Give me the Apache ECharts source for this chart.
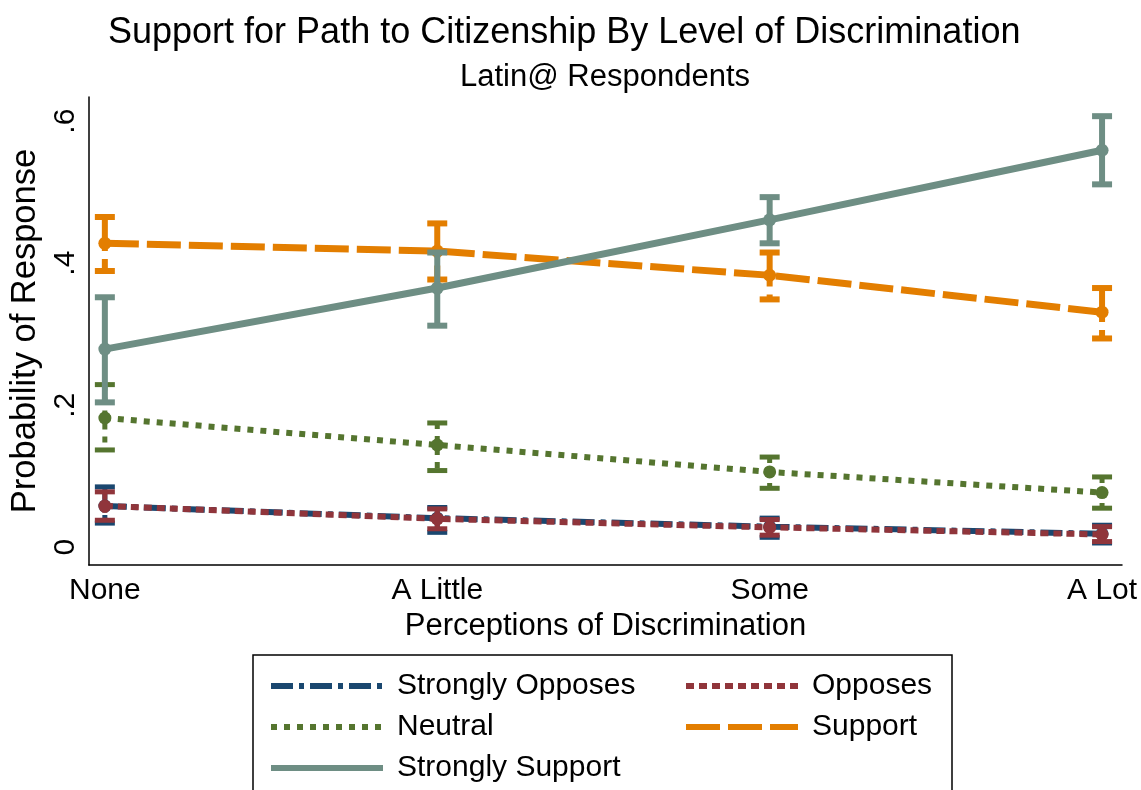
<!DOCTYPE html>
<html>
<head>
<meta charset="utf-8">
<script src="https://cdn.jsdelivr.net/npm/echarts@6/dist/echarts.min.js"></script>
<style>
html,body{margin:0;padding:0;background:#fff;}
#chart{width:1141px;height:790px;}
</style>
</head>
<body>
<div id="chart"></div>
<script>
// ---- data ----
const categories = ['None', 'A Little', 'Some', 'A Lot'];
const yTicks = [0, 0.2, 0.4, 0.6];
const yTickLabels = ['0', '.2', '.4', '.6'];

const seriesNames = ['Strongly Opposes', 'Opposes', 'Neutral', 'Support', 'Strongly Support'];

const stronglyOpposes   = [0.058, 0.041, 0.029, 0.019];
const stronglyOpposesLo = [0.034, 0.021, 0.014, 0.006];
const stronglyOpposesHi = [0.085, 0.056, 0.041, 0.031];

const opposes   = [0.058, 0.040, 0.028, 0.018];
const opposesLo = [0.038, 0.026, 0.017, 0.008];
const opposesHi = [0.078, 0.054, 0.039, 0.029];

const neutral   = [0.182, 0.144, 0.106, 0.077];
const neutralLo = [0.137, 0.108, 0.083, 0.055];
const neutralHi = [0.229, 0.175, 0.127, 0.099];

const support   = [0.428, 0.417, 0.383, 0.331];
const supportLo = [0.389, 0.377, 0.349, 0.294];
const supportHi = [0.465, 0.456, 0.415, 0.365];

const stronglySupport   = [0.279, 0.365, 0.461, 0.559];
const stronglySupportLo = [0.204, 0.312, 0.428, 0.511];
const stronglySupportHi = [0.352, 0.415, 0.493, 0.607];

// ---- styles ----
const styles = {
  'Strongly Opposes': {color: '#1a476f', width: 6, dash: [22, 6, 5, 6], z: 2},
  'Opposes':          {color: '#90353b', width: 6, dash: [8, 5], z: 3},
  'Neutral':          {color: '#55752f', width: 6, dash: [6, 7], z: 4},
  'Support':          {color: '#e37e00', width: 7, dash: [34, 8], z: 5},
  'Strongly Support': {color: '#6e8e84', width: 7, dash: 'solid', z: 6}
};
const seriesData = {
  'Strongly Opposes': [stronglyOpposes, stronglyOpposesLo, stronglyOpposesHi],
  'Opposes': [opposes, opposesLo, opposesHi],
  'Neutral': [neutral, neutralLo, neutralHi],
  'Support': [support, supportLo, supportHi],
  'Strongly Support': [stronglySupport, stronglySupportLo, stronglySupportHi]
};

const FONT = '"Liberation Sans", Arial, sans-serif';

function ciRender(st) {
  return function (params, api) {
    const x = api.value(0), lo = api.value(1), hi = api.value(2);
    const pLo = api.coord([x, lo]);
    const pHi = api.coord([x, hi]);
    const hw = 10;
    const dash = st.dash === 'solid' ? null : st.dash;
    const base = {stroke: st.color, lineWidth: st.width - 1, lineDash: dash};
    return {
      type: 'group',
      children: [
        {type: 'line', shape: {x1: pHi[0], y1: pHi[1], x2: pLo[0], y2: pLo[1]}, style: base},
        {type: 'line', shape: {x1: pHi[0] - hw, y1: pHi[1], x2: pHi[0] + hw, y2: pHi[1]}, style: {stroke: st.color, lineWidth: st.width - 1}},
        {type: 'line', shape: {x1: pLo[0] - hw, y1: pLo[1], x2: pLo[0] + hw, y2: pLo[1]}, style: {stroke: st.color, lineWidth: st.width - 1}}
      ]
    };
  };
}

const series = [];
seriesNames.forEach(function (name) {
  const st = styles[name];
  const [mid, lo, hi] = seriesData[name];
  series.push({
    name: name,
    type: 'line',
    data: mid.map(function (v, i) { return [i, v]; }),
    symbol: 'circle',
    symbolSize: 13,
    itemStyle: {color: st.color},
    lineStyle: {color: st.color, width: st.width, type: st.dash},
    z: st.z + 0.5,
    animation: false
  });
  series.push({
    name: name + ' CI',
    type: 'custom',
    data: lo.map(function (v, i) { return [i, v, hi[i]]; }),
    renderItem: ciRender(st),
    z: st.z,
    animation: false
  });
});

const legendCommon = {
  orient: 'vertical', top: 671, itemGap: 11, padding: 0, height: 300,
  itemWidth: 112, itemHeight: 12,
  itemStyle: {opacity: 0},
  lineStyle: {width: 6},
  textStyle: {fontFamily: FONT, fontSize: 30, color: '#000', padding: [0, 0, 0, 9]},
  selectedMode: false
};

const chart = echarts.init(document.getElementById('chart'), null, {renderer: 'canvas'});
chart.setOption({
  backgroundColor: '#ffffff',
  animation: false,
  title: [
    {text: 'Support for Path to Citizenship By Level of Discrimination', left: 103, top: 10,
     textStyle: {fontFamily: FONT, fontSize: 36, fontWeight: 'normal', color: '#000'}},
    {text: 'Latin@ Respondents', left: 600, top: 57, textAlign: 'center',
     textStyle: {fontFamily: FONT, fontSize: 31, fontWeight: 'normal', color: '#000'}}
  ],
  grid: {left: 85, right: 19, top: 97, bottom: 225, containLabel: false},
  xAxis: {
    type: 'value',
    min: -0.048, max: 3.06,
    name: 'Perceptions of Discrimination',
    nameLocation: 'middle',
    nameGap: 37,
    nameTextStyle: {fontFamily: FONT, fontSize: 31, color: '#000'},
    axisLine: {show: true, onZero: false, lineStyle: {color: '#000', width: 1.5}},
    axisTick: {show: false},
    splitLine: {show: false},
    axisLabel: {
      customValues: [0, 1, 2, 3],
      formatter: function (v) { return categories[Math.round(v)]; },
      fontFamily: FONT, fontSize: 30, color: '#000', margin: 11
    }
  },
  yAxis: {
    type: 'value',
    min: -0.025, max: 0.634,
    name: 'Probability of Response',
    nameLocation: 'middle',
    nameGap: 34,
    nameTextStyle: {fontFamily: FONT, fontSize: 34.5, color: '#000'},
    axisLine: {show: true, onZero: false, lineStyle: {color: '#000', width: 1.5}},
    axisTick: {show: false},
    splitLine: {show: false},
    axisLabel: {
      customValues: yTicks,
      formatter: function (v) {
        const idx = yTicks.findIndex(function (t) { return Math.abs(t - v) < 1e-9; });
        return idx >= 0 ? yTickLabels[idx] : '';
      },
      rotate: 90,
      fontFamily: FONT, fontSize: 30, color: '#000', margin: 8
    }
  },
  legend: [
    Object.assign({}, legendCommon, {data: ['Strongly Opposes', 'Neutral', 'Strongly Support'], left: 268}),
    Object.assign({}, legendCommon, {data: ['Opposes', 'Support'], left: 683})
  ],
  graphic: [
    {type: 'rect', shape: {x: 253, y: 655, width: 699, height: 150},
     style: {fill: null, stroke: '#000', lineWidth: 1.5}, silent: true, z: -1}
  ],
  series: series
});
</script>
</body>
</html>
